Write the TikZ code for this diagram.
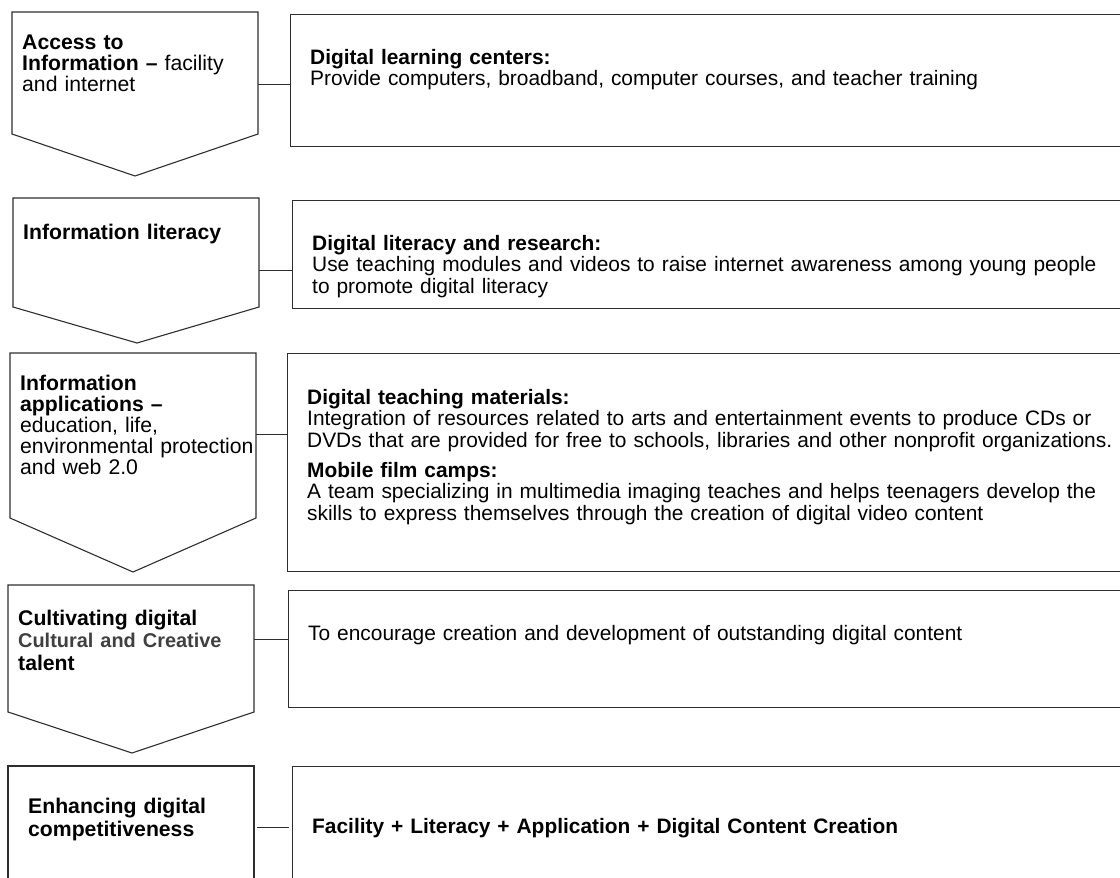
\documentclass[tikz,border=0pt]{standalone}
\usepackage{fontspec}
\setmainfont{Liberation Sans}
\definecolor{edge}{gray}{0.18}
\definecolor{subtle}{gray}{0.25}
\hyphenpenalty=10000
\exhyphenpenalty=10000
\begin{document}
\begin{tikzpicture}[x=1pt,y=-1pt,
  chev/.style={draw=edge, line width=1.1pt, line join=miter},
  rbox/.style={draw=edge, line width=1.1pt, rectangle, inner sep=0pt, anchor=north west},
  link/.style={draw=edge, line width=1pt},
  ltext/.style={anchor=base west, inner sep=0pt, align=left, text width=240pt,
    font=\fontsize{21.2pt}{21pt}\selectfont},
  rtext/.style={anchor=base west, inner sep=0pt, align=left, text width=840pt,
    font=\fontsize{20.9pt}{21.5pt}\selectfont}]
\useasboundingbox (0,0) rectangle (1120,878);

% ---- stage shapes (down-pointing chevrons) ----
\draw[chev] (12,12) -- (258,12) -- (258,134) -- (135,176) -- (12,134) -- cycle;
\draw[chev] (13,198) -- (259,198) -- (259,307) -- (137,343) -- (13,307) -- cycle;
\draw[chev] (10,353) -- (256,353) -- (256,518) -- (133,572) -- (10,518) -- cycle;
\draw[chev] (8,585) -- (254,585) -- (254,712) -- (132,753) -- (8,712) -- cycle;
\draw[chev] (8,900) -- (8,766) -- (254,766) -- (254,900);

\coordinate (s1) at (258,84);
\coordinate (s2) at (259,270);
\coordinate (s3) at (256,434);
\coordinate (s4) at (254,639);
\coordinate (s5) at (257,827);
\coordinate (e5) at (289,827);

% ---- stage labels ----
\node[ltext] (t1) at (22,49) {\textbf{Access to}\\\textbf{Information –} facility\\and internet};
\node[ltext] (t2) at (23,239) {\textbf{Information literacy}};
\node[ltext] (t3) at (20,390) {\textbf{Information}\\\textbf{applications –}\\education, life,\\environmental protection\\and web 2.0};
\node[ltext] (t4) at (18,625) {\textbf{Cultivating digital}\\[1.5pt]{\fontsize{19.9pt}{21pt}\selectfont\color{subtle}\textbf{Cultural and Creative}}\\[1.5pt]\textbf{talent}};
\node[ltext] (t5) at (28,813) {\textbf{Enhancing digital}\\[2pt]\textbf{competitiveness}};

% ---- description boxes ----
\node[rbox, minimum width=850pt, minimum height=132pt] (b1) at (290,14) {};
\node[rbox, minimum width=850pt, minimum height=108pt] (b2) at (292,200) {};
\node[rbox, minimum width=850pt, minimum height=218pt] (b3) at (287,353) {};
\node[rbox, minimum width=850pt, minimum height=117pt] (b4) at (288,590) {};
\node[rbox, minimum width=850pt, minimum height=150pt] (b5) at (292,766) {};

% ---- connectors ----
\draw[link] (s1) -- (s1 -| b1.west);
\draw[link] (s2) -- (s2 -| b2.west);
\draw[link] (s3) -- (s3 -| b3.west);
\draw[link] (s4) -- (s4 -| b4.west);
\draw[link] (s5) -- (e5);

% ---- descriptions ----
\node[rtext] (d1) at (310,64) {\textbf{Digital learning centers:}\\Provide computers, broadband, computer courses, and teacher training};
\node[rtext] (d2) at (312,250) {\textbf{Digital literacy and research:}\\Use teaching modules and videos to raise internet awareness among young people\\to promote digital literacy};
\node[rtext] (d3) at (307,404) {\textbf{Digital teaching materials:}\\Integration of resources related to arts and entertainment events to produce CDs or\\DVDs that are provided for free to schools, libraries and other nonprofit organizations.\\[8.5pt]\textbf{Mobile film camps:}\\A team specializing in multimedia imaging teaches and helps teenagers develop the\\skills to express themselves through the creation of digital video content};
\node[rtext] (d4) at (308,640) {To encourage creation and development of outstanding digital content};
\node[rtext] (d5) at (312,833) {\textbf{Facility + Literacy + Application + Digital Content Creation}};
\end{tikzpicture}
\end{document}
